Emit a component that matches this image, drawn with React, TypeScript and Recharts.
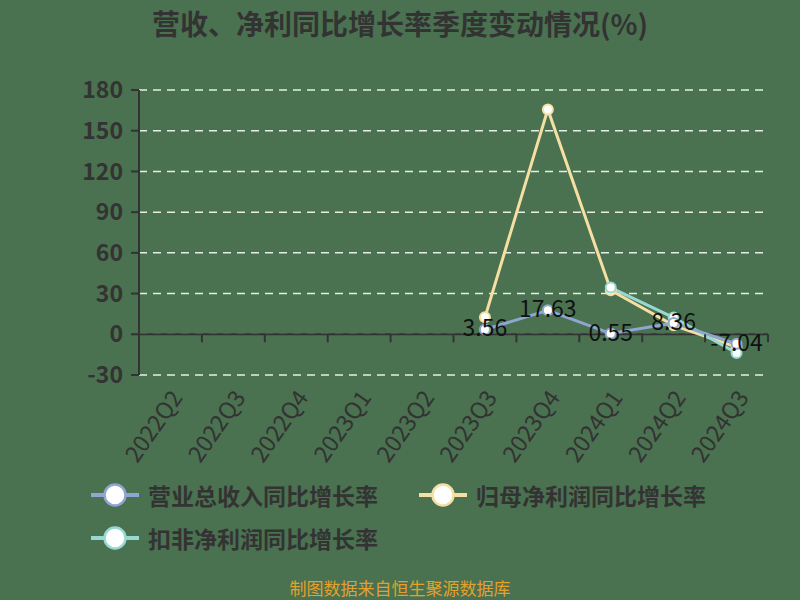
import { LineChart, Line, XAxis, YAxis, CartesianGrid, ReferenceLine, LabelList } from "recharts";

const quarters = ["2022Q2", "2022Q3", "2022Q4", "2023Q1", "2023Q2", "2023Q3", "2023Q4", "2024Q1", "2024Q2", "2024Q3"];
const revenueGrowth = [null, null, null, null, null, 3.56, 17.63, 0.55, 8.36, -7.04];
const netProfitGrowth = [null, null, null, null, null, 12.5, 165.7, 32.4, 6.6, -9.4];
const deductedGrowth = [null, null, null, null, null, null, null, 34.4, 12.3, -13.8];
const yTicks = [-30, 0, 30, 60, 90, 120, 150, 180];

const seriesNames = ["营业总收入同比增长率", "归母净利润同比增长率", "扣非净利润同比增长率"];
const seriesColors = ["#8fa6d2", "#f6dfa2", "#97d9d2"];

const data = quarters.map((q, i) => ({
  q,
  revenue: revenueGrowth[i],
  netProfit: netProfitGrowth[i],
  deducted: deductedGrowth[i],
}));

const W = 800;
const H = 600;
const margin = { top: 90, right: 32, bottom: 125, left: 79 };
const yAxisWidth = 60;
const plotLeft = margin.left + yAxisWidth;
const plotWidth = W - plotLeft - margin.right;
const plotHeight = 285;
const band = plotWidth / quarters.length;
const zeroY = margin.top + (plotHeight * 180) / 210;

const font = '"Noto Sans CJK SC", "Noto Sans", sans-serif';
const textColor = "#333333";

function XTick(props: any) {
  const { x, y, payload, index } = props;
  const left = x - band / 2;
  const tx = x + 5;
  const ty = y + 9;
  return (
    <g>
      <line x1={left} y1={zeroY} x2={left} y2={zeroY + 8} stroke="#333" strokeWidth={2} />
      {index === quarters.length - 1 && (
        <line x1={x + band / 2} y1={zeroY} x2={x + band / 2} y2={zeroY + 8} stroke="#333" strokeWidth={2} />
      )}
      <text
        x={tx}
        y={ty}
        transform={`rotate(-55 ${tx} ${ty})`}
        textAnchor="end"
        dominantBaseline="central"
        fontSize={23}
        fill={textColor}
        fontFamily={font}
      >
        {payload.value}
      </text>
    </g>
  );
}

function dot(color: string) {
  return { r: 5, fill: "#ffffff", stroke: color, strokeWidth: 2 };
}

function ValueLabel(props: any) {
  const { x, y, value } = props;
  if (value === null || value === undefined) return null;
  return (
    <text
      x={x}
      y={y - 3}
      textAnchor="middle"
      dominantBaseline="central"
      fontSize={23}
      fill="#111111"
      fontFamily={font}
    >
      {value}
    </text>
  );
}

function LegendItem({ name, color }: { name: string; color: string }) {
  return (
    <div style={{ display: "flex", alignItems: "center" }}>
      <svg width={50} height={26} style={{ marginRight: 8 }}>
        <line x1={1} y1={13} x2={49} y2={13} stroke={color} strokeWidth={4} />
        <circle cx={25} cy={13} r={10.5} fill="#ffffff" stroke={color} strokeWidth={2.5} />
      </svg>
      <span style={{ fontSize: 23, color: textColor, fontWeight: 700 }}>{name}</span>
    </div>
  );
}

export default function App() {
  return (
    <div
      style={{
        position: "absolute",
        left: 0,
        top: 0,
        width: W,
        height: H,
        background: "#4a7150",
        fontFamily: font,
        overflow: "hidden",
      }}
    >
      <div
        style={{
          position: "absolute",
          top: 3,
          left: 0,
          width: W,
          textAlign: "center",
          fontSize: 28,
          fontWeight: 700,
          color: textColor,
        }}
      >
        营收、净利同比增长率季度变动情况(%)
      </div>

      <LineChart width={W} height={H} data={data} margin={margin}>
        <CartesianGrid vertical={false} stroke="#e6eee6" strokeDasharray="8 6" strokeWidth={1.5} />
        <XAxis
          dataKey="q"
          scale="band"
          axisLine={false}
          tickLine={false}
          interval={0}
          height={100}
          tick={<XTick />}
        />
        <YAxis
          domain={[-30, 180]}
          ticks={yTicks}
          width={yAxisWidth}
          axisLine={{ stroke: "#333", strokeWidth: 2 }}
          tickLine={{ stroke: "#333", strokeWidth: 2 }}
          tickSize={8}
          tickMargin={8}
          tick={{ fontSize: 23, fill: textColor, fontFamily: font, fontWeight: 700 }}
        />
        <ReferenceLine y={0} stroke="#333" strokeWidth={2} />
        <Line
          dataKey="netProfit"
          stroke={seriesColors[1]}
          strokeWidth={3}
          dot={dot(seriesColors[1])}
          isAnimationActive={false}
        />
        <Line
          dataKey="deducted"
          stroke={seriesColors[2]}
          strokeWidth={3}
          dot={dot(seriesColors[2])}
          isAnimationActive={false}
        />
        <Line
          dataKey="revenue"
          stroke={seriesColors[0]}
          strokeWidth={3}
          dot={dot(seriesColors[0])}
          isAnimationActive={false}
        >
          <LabelList dataKey="revenue" content={<ValueLabel />} />
        </Line>
      </LineChart>

      <div style={{ position: "absolute", left: 90, top: 478, display: "flex", gap: 40 }}>
        <LegendItem name={seriesNames[0]} color={seriesColors[0]} />
        <LegendItem name={seriesNames[1]} color={seriesColors[1]} />
      </div>
      <div style={{ position: "absolute", left: 90, top: 521 }}>
        <LegendItem name={seriesNames[2]} color={seriesColors[2]} />
      </div>

      <div
        style={{
          position: "absolute",
          top: 575,
          left: 0,
          width: W,
          textAlign: "center",
          fontSize: 17,
          color: "#e2a12c",
        }}
      >
        制图数据来自恒生聚源数据库
      </div>
    </div>
  );
}
